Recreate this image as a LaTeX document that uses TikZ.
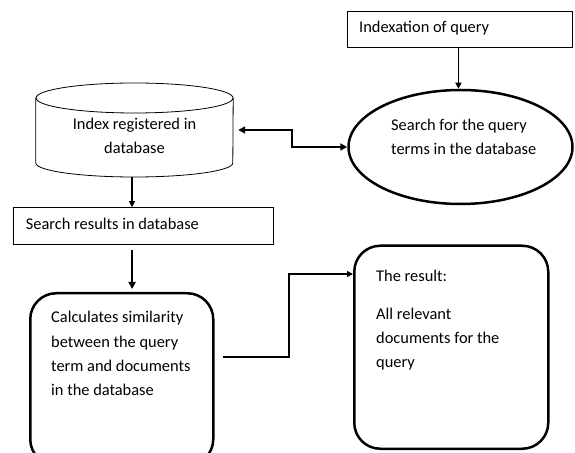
\documentclass[tikz,border=0pt]{standalone}
\usepackage{fontspec}
\setmainfont{Carlito}
\usetikzlibrary{arrows.meta,shapes.geometric}
\newcommand{\mainfs}{\fontsize{16.4}{24.4}\selectfont}
\tikzset{
  thinbox/.style={draw, line width=0.8pt, inner sep=0pt},
  thickbox/.style={draw, line width=2.5pt, rounded corners=26pt, inner sep=0pt},
  txt/.style={inner sep=0pt, align=left, anchor=base west, font=\mainfs},
  arr/.style={-{Triangle[length=6pt,width=6pt]}, line width=1.2pt},
  harr/.style={-{Triangle[length=7pt,width=7pt]}, line width=1.9pt},
  darr/.style={{Triangle[length=7pt,width=7pt]}-{Triangle[length=7pt,width=7pt]}, line width=1.8pt},
}
\begin{document}
\begin{tikzpicture}[x=1pt,y=1pt]
\useasboundingbox[fill=white] (0,0) rectangle (575,452);
% Indexation of query
\node[thinbox, minimum width=225pt, minimum height=36pt, anchor=south west] (idx) at (347,404) {};
\node[txt] (idxt) at (359,419) {Indexation of query};
% Search ellipse
\node[draw, ellipse, line width=2.5pt, minimum width=224pt, minimum height=114pt, inner sep=0pt] (srch) at (460.5,305) {};
\node[txt] (srcht) at (391,297) {Search for the query\\terms in the database};
% Cylinder
\node[minimum width=197pt, minimum height=94pt, inner sep=0pt] (cyl) at (134.5,322) {};
\draw[line width=0.8pt] (cyl.north west |- 0,354) -- (cyl.south west |- 0,289)
  arc[start angle=180, end angle=360, x radius=98.5, y radius=14] -- (cyl.north east |- 0,354);
\draw[line width=0.8pt] (cyl.north |- 0,354) ellipse[x radius=98.5, y radius=15];
\node[txt, align=center, anchor=base] (cylt) at (134.5,298) {Index registered in\\database};
% Search results box
\node[thinbox, minimum width=260pt, minimum height=37pt, anchor=south west] (sres) at (12.7,207) {};
\node[txt] (srest) at (25.7,222) {Search results in database};
% Calculates box
\node[thickbox, minimum width=183pt, minimum height=172pt, anchor=north west] (calc) at (29,160) {};
\node[txt] (calct) at (51,56) {Calculates similarity\\between the query\\term and documents\\in the database};
% Result box
\node[thickbox, minimum width=194pt, minimum height=203pt, anchor=south west] (res) at (353,2) {};
\node[txt] (rest1) at (376,170) {The result:};
\node[txt] (rest2) at (376,84) {All relevant\\documents for the\\query};
% connectors
\draw[arr] ([xshift=-1.5pt]idx.south) -- ([xshift=-1.5pt]idx.south |- srch.north);
\draw[darr] ([xshift=5pt]cyl.east) -- ++(54,0) |- (srch.west);
\draw[arr] ([xshift=-2.5pt]cyl.south) -- ([xshift=-2.5pt]cyl.south |- sres.north);
\draw[harr] ([xshift=-11pt,yshift=-5pt]sres.south) -- ([xshift=-11pt,yshift=3pt]sres.south |- calc.north);
\coordinate (c1) at (223,95);
\draw[arr] (c1) -- ++(66,0) |- (res.west |- 0,178);
\end{tikzpicture}
\end{document}
